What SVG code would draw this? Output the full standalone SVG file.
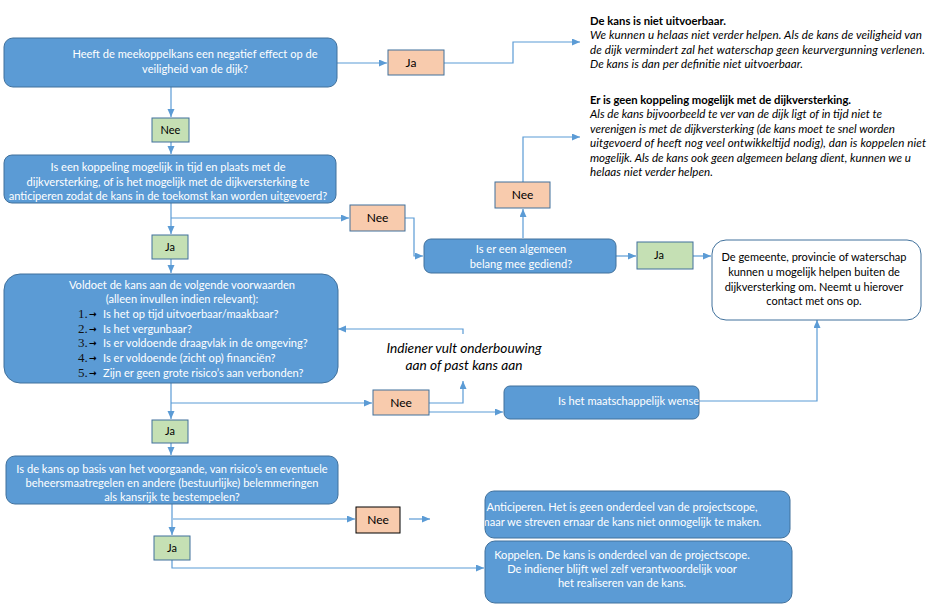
<svg xmlns="http://www.w3.org/2000/svg" width="931" height="609" viewBox="0 0 931 609">
<style>
.bg{fill:#ffffff}
.q{fill:#5B9BD5;stroke:#41719C;stroke-width:1}
.w{fill:#ffffff;stroke:#41719C;stroke-width:1}
.g{fill:#C5E0B4;stroke:#41719C;stroke-width:1}
.o{fill:#F8CBAD;stroke:#41719C;stroke-width:1}
.ok{fill:#F8CBAD;stroke:#000000;stroke-width:1}
.t{font-family:Lato,"Liberation Sans",sans-serif;font-size:11.1px;fill:#ffffff;text-anchor:middle}
.tl{font-family:Lato,"Liberation Sans",sans-serif;font-size:11.1px;fill:#ffffff}
.tb{font-family:Lato,"Liberation Sans",sans-serif;font-size:11px;fill:#000000;text-anchor:middle}
.lab{font-family:Lato,"Liberation Sans",sans-serif;font-size:11px;fill:#000000;text-anchor:middle}
.labo{font-family:Lato,"Liberation Sans",sans-serif;font-size:12px;fill:#000000;text-anchor:middle}
.num{font-family:"Liberation Serif",serif;font-size:13px;fill:#111111}
.arr{font-family:"DejaVu Sans",sans-serif;font-size:9px;font-weight:bold;fill:#000000}
.h{font-family:Lato,"Liberation Sans",sans-serif;font-size:11.3px;font-weight:bold;fill:#000000}
.i{font-family:Lato,"Liberation Sans",sans-serif;font-size:11.6px;font-style:italic;fill:#000000}
.ib{font-family:Lato,"Liberation Sans",sans-serif;font-size:13.7px;font-style:italic;fill:#000000;text-anchor:middle}
.c{fill:none;stroke:#5B9BD5;stroke-width:1.2}
</style>
<defs>
<marker id="ah" markerWidth="9" markerHeight="8" refX="8" refY="3.5" orient="auto" markerUnits="userSpaceOnUse">
<path d="M0,0 L8,3.5 L0,7 z" fill="#5B9BD5"/>
</marker>
<clipPath id="clipA"><rect x="485" y="491" width="305" height="47" rx="9"/></clipPath>
</defs>
<rect class="bg" x="0" y="0" width="931" height="609"/>

<g id="connectors">
<path class="c" d="M171,87 V117" marker-end="url(#ah)"/>
<path class="c" d="M171,142 V154" marker-end="url(#ah)"/>
<path class="c" d="M337,63 H387" marker-end="url(#ah)"/>
<path class="c" d="M444,63 H513 V42 H580" marker-end="url(#ah)"/>
<path class="c" d="M171,203 V234" marker-end="url(#ah)"/>
<path class="c" d="M171,218 H349" marker-end="url(#ah)"/>
<path class="c" d="M405,218 H414 V256 H423" marker-end="url(#ah)"/>
<path class="c" d="M523,238 V209" marker-end="url(#ah)"/>
<path class="c" d="M523,182 V137 H580" marker-end="url(#ah)"/>
<path class="c" d="M616,256 H636" marker-end="url(#ah)"/>
<path class="c" d="M693,256 H711" marker-end="url(#ah)"/>
<path class="c" d="M171,259 V273" marker-end="url(#ah)"/>
<path class="c" d="M171,383 V419" marker-end="url(#ah)"/>
<path class="c" d="M171,403 H372" marker-end="url(#ah)"/>
<path class="c" d="M429,403 H463 V381" marker-end="url(#ah)"/>
<path class="c" d="M463,334 V329 H338" marker-end="url(#ah)"/>
<path class="c" d="M429,412 H503" marker-end="url(#ah)"/>
<path class="c" d="M699,401 H817 V320" marker-end="url(#ah)"/>
<path class="c" d="M171,443 V455" marker-end="url(#ah)"/>
<path class="c" d="M172,504 V535" marker-end="url(#ah)"/>
<path class="c" d="M173,519 H355" marker-end="url(#ah)"/>
<path class="c" d="M409,519 H430" marker-end="url(#ah)"/>
<path class="c" d="M172,560 V568 H484" marker-end="url(#ah)"/>
</g>

<g id="q1">
<rect class="q" x="4" y="38" width="333" height="49" rx="9"/>
<text class="t" x="195" y="58">Heeft de meekoppelkans een negatief effect op de</text>
<text class="t" x="195" y="73">veiligheid van de dijk?</text>
</g>

<g id="ja1">
<rect class="o" x="388" y="50" width="56" height="25"/>
<text class="labo" x="411" y="67">Ja</text>
</g>

<g id="res1">
<text class="h" x="590" y="25" textLength="136" lengthAdjust="spacing">De kans is niet uitvoerbaar.</text>
<text class="i" x="590" y="39" textLength="332" lengthAdjust="spacing">We kunnen u helaas niet verder helpen. Als de kans de veiligheid van</text>
<text class="i" x="590" y="54" textLength="335" lengthAdjust="spacing">de dijk vermindert zal het waterschap geen keurvergunning verlenen.</text>
<text class="i" x="590" y="68" textLength="213" lengthAdjust="spacing">De kans is dan per definitie niet uitvoerbaar.</text>
</g>

<g id="res2">
<text class="h" x="590" y="104" textLength="261" lengthAdjust="spacing">Er is geen koppeling mogelijk met de dijkversterking.</text>
<text class="i" x="590" y="118" textLength="292" lengthAdjust="spacing">Als de kans bijvoorbeeld te ver van de dijk ligt of in tijd niet te</text>
<text class="i" x="590" y="133" textLength="305" lengthAdjust="spacing">verenigen is met de dijkversterking (de kans moet te snel worden</text>
<text class="i" x="590" y="147" textLength="336" lengthAdjust="spacing">uitgevoerd of heeft nog veel ontwikkeltijd nodig), dan is koppelen niet</text>
<text class="i" x="590" y="162" textLength="321" lengthAdjust="spacing">mogelijk. Als de kans ook geen algemeen belang dient, kunnen we u</text>
<text class="i" x="590" y="176" textLength="123" lengthAdjust="spacing">helaas niet verder helpen.</text>
</g>

<g id="nee1">
<rect class="g" x="152" y="118" width="37" height="24"/>
<text class="lab" x="170.5" y="134">Nee</text>
</g>

<g id="q2">
<rect class="q" x="4" y="155" width="332" height="48" rx="8"/>
<text class="t" x="168" y="171">Is een koppeling mogelijk in tijd en plaats met de</text>
<text class="t" x="168" y="186">dijkversterking, of is het mogelijk met de dijkversterking te</text>
<text class="t" x="168" y="200">anticiperen zodat de kans in de toekomst kan worden uitgevoerd?</text>
</g>

<g id="nee2">
<rect class="o" x="350" y="205" width="55" height="26"/>
<text class="labo" x="377.5" y="222">Nee</text>
</g>

<g id="ja2">
<rect class="g" x="152" y="235" width="36" height="24"/>
<text class="lab" x="170" y="251">Ja</text>
</g>

<g id="q3">
<rect class="q" x="424" y="239" width="192" height="34" rx="7"/>
<text class="t" x="521" y="253">Is er een algemeen</text>
<text class="t" x="521" y="268">belang mee gediend?</text>
</g>

<g id="nee3">
<rect class="o" x="495" y="182" width="55" height="26"/>
<text class="labo" x="522.5" y="199">Nee</text>
</g>

<g id="ja3">
<rect class="g" x="637" y="242" width="56" height="27"/>
<text class="lab" x="659" y="259">Ja</text>
</g>

<g id="res3">
<rect class="w" x="712" y="240" width="209" height="80" rx="14"/>
<text class="tb" x="814" y="261">De gemeente, provincie of waterschap</text>
<text class="tb" x="814" y="276">kunnen u mogelijk helpen buiten de</text>
<text class="tb" x="814" y="291">dijkversterking om. Neemt u hierover</text>
<text class="tb" x="814" y="305">contact met ons op.</text>
</g>

<g id="q4">
<rect class="q" x="4" y="274" width="334" height="109" rx="16"/>
<text class="t" x="182" y="289">Voldoet de kans aan de volgende voorwaarden</text>
<text class="t" x="182" y="303">(alleen invullen indien relevant):</text>
<text class="num" x="78" y="318">1.</text><text class="arr" x="89" y="317">→</text><text class="tl" x="103" y="318">Is het op tijd uitvoerbaar/maakbaar?</text>
<text class="num" x="78" y="333">2.</text><text class="arr" x="89" y="332">→</text><text class="tl" x="103" y="333">Is het vergunbaar?</text>
<text class="num" x="78" y="347">3.</text><text class="arr" x="89" y="346">→</text><text class="tl" x="103" y="347">Is er voldoende draagvlak in de omgeving?</text>
<text class="num" x="78" y="362">4.</text><text class="arr" x="89" y="361">→</text><text class="tl" x="103" y="362">Is er voldoende (zicht op) financiën?</text>
<text class="num" x="78" y="377">5.</text><text class="arr" x="89" y="376">→</text><text class="tl" x="103" y="377">Zijn er geen grote risico’s aan verbonden?</text>
</g>

<g id="feedback">
<text class="ib" x="464" y="353">Indiener vult onderbouwing</text>
<text class="ib" x="464" y="370">aan of past kans aan</text>
</g>

<g id="nee4">
<rect class="o" x="373" y="390" width="56" height="25"/>
<text class="labo" x="401" y="407">Nee</text>
</g>

<g id="q5">
<rect class="q" x="504" y="386" width="195" height="33" rx="6"/>
<text class="tl" x="558" y="405">Is het maatschappelijk wense</text>
</g>

<g id="ja4">
<rect class="g" x="152" y="420" width="36" height="23"/>
<text class="lab" x="170" y="435">Ja</text>
</g>

<g id="q6">
<rect class="q" x="6" y="456" width="332" height="48" rx="9"/>
<text class="t" x="172" y="473">Is de kans op basis van het voorgaande, van risico’s en eventuele</text>
<text class="t" x="172" y="487">beheersmaatregelen en andere (bestuurlijke) belemmeringen</text>
<text class="t" x="172" y="501">als kansrijk te bestempelen?</text>
</g>

<g id="nee5">
<rect class="ok" x="356" y="507" width="44" height="26"/>
<text class="labo" x="378" y="524">Nee</text>
</g>

<g id="ja5">
<rect class="g" x="154" y="536" width="36" height="24"/>
<text class="lab" x="172" y="552">Ja</text>
</g>

<g id="res4">
<rect class="q" x="485" y="491" width="305" height="47" rx="9"/>
<g clip-path="url(#clipA)">
<text class="t" x="622" y="511">Anticiperen. Het is geen onderdeel van de projectscope,</text>
<text class="t" x="621" y="526">maar we streven ernaar de kans niet onmogelijk te maken.</text>
</g>
</g>

<g id="res5">
<rect class="q" x="485" y="541" width="307" height="62" rx="10"/>
<text class="t" x="622" y="559">Koppelen. De kans is onderdeel van de projectscope.</text>
<text class="t" x="622" y="573">De indiener blijft wel zelf verantwoordelijk voor</text>
<text class="t" x="622" y="587">het realiseren van de kans.</text>
</g>
</svg>
